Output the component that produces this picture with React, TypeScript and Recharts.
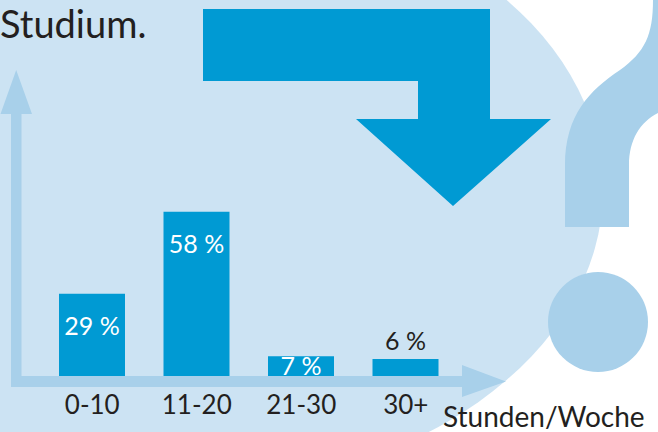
import { Bar, BarChart, LabelList, XAxis, YAxis } from "recharts";

// Weekly hours spent on studies, share of students
const categories = ["0-10", "11-20", "21-30", "30+"];
const shares = [29, 58, 7, 6];
const heading = "Studium.";
const axisTitle = "Stunden/Woche";

const data = categories.map((range, i) => ({ range, share: shares[i] }));

const FONT = "Lato, 'Open Sans', sans-serif";
const DARK = "#231F20";
const BAR = "#009AD3";
const PALE = "#CCE3F3";
const LIGHT = "#A8D0EA";

function ShareLabel(props: any) {
  const { x, y, width, height, value } = props;
  const cx = x + width / 2;
  const style = { fontFamily: FONT, fontSize: 25 };
  if (value >= 20) {
    return (
      <text x={cx} y={y + 41} textAnchor="middle" fill="#fff" style={style}>
        {value} %
      </text>
    );
  }
  if (value >= 7) {
    // small bar: label sits at the bottom, inside
    return (
      <text x={cx} y={y + height - 1} textAnchor="middle" fill="#fff" style={style}>
        {value} %
      </text>
    );
  }
  return (
    <text x={cx} y={y - 9} textAnchor="middle" fill={DARK} style={style}>
      {value} %
    </text>
  );
}

export default function App() {
  return (
    <div
      style={{
        position: "absolute",
        left: 0,
        top: 0,
        width: 658,
        height: 432,
        overflow: "hidden",
        background: "#fff",
      }}
    >
      {/* backdrop: bubble, bent arrow, question mark */}
      <svg width={658} height={432} style={{ position: "absolute", left: 0, top: 0 }}>
        <ellipse cx={177} cy={190} rx={426} ry={300} fill={PALE} />
        <polygon
          points="203,9 490,9 490,119 551,119 453,206 356,119 418,119 418,81 203,81"
          fill={BAR}
        />
        <path
          d="M650,-10 L700,-10 L700,110 L658,113 C640,122 629,140 629,165 L629,227 L565,227 L565,165 C565,115 590,90 620,70 C645,52 653,35 653,0 Z"
          fill={LIGHT}
        />
        <circle cx={598} cy={322} r={50} fill={LIGHT} />
      </svg>

      <div style={{ position: "absolute", left: 0, top: 0 }}>
        <BarChart
          width={658}
          height={432}
          data={data}
          margin={{ top: 206, right: 200, bottom: 0, left: 40 }}
          barSize={66}
        >
          <XAxis
            dataKey="range"
            axisLine={false}
            tickLine={false}
            tickSize={0}
            tickMargin={20}
            interval={0}
            tick={{ fontSize: 26, fill: DARK, fontFamily: FONT }}
            height={56}
          />
          <YAxis hide domain={[0, 60]} />
          <Bar dataKey="share" fill={BAR} isAnimationActive={false}>
            <LabelList dataKey="share" content={ShareLabel} />
          </Bar>
        </BarChart>
      </div>

      {/* axis arrows and texts */}
      <svg width={658} height={432} style={{ position: "absolute", left: 0, top: 0 }}>
        <polygon points="11,387 11,114 0.5,114 16.2,70 32,114 21.5,114 21.5,376 462,376 462,365 506,381.5 462,397 462,387" fill={LIGHT} />
        <text x={0} y={38} fill={DARK} style={{ fontFamily: FONT, fontSize: 38 }}>
          {heading}
        </text>
        <text x={443} y={427} fill={DARK} style={{ fontFamily: FONT, fontSize: 28 }}>
          {axisTitle}
        </text>
      </svg>
    </div>
  );
}
